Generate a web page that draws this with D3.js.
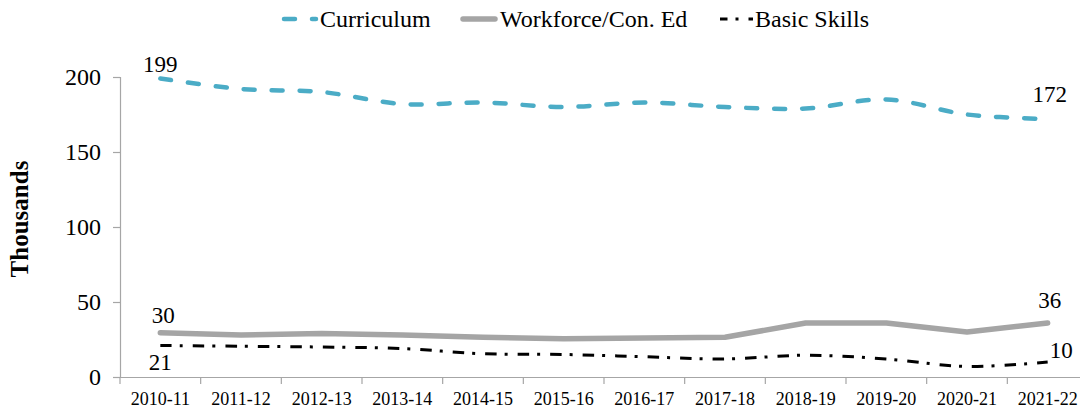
<!DOCTYPE html>
<html>
<head>
<meta charset="utf-8">
<script src="https://cdn.jsdelivr.net/npm/d3@7"></script>
<style>
  html, body { margin: 0; padding: 0; background: #fff; }
  svg { display: block; }
  svg text { font-family: "Liberation Serif", "Times New Roman", serif; }
</style>
</head>
<body>
<div id="chart"></div>
<script>
const years = ["2010-11", "2011-12", "2012-13", "2013-14", "2014-15", "2015-16",
  "2016-17", "2017-18", "2018-19", "2019-20", "2020-21", "2021-22"];
const curriculum = [199, 192, 190, 182, 183, 180, 183, 180, 179, 185, 175, 172];
const workforce = [29.5, 28, 29, 28, 26.5, 25.5, 26, 26.5, 36, 36, 30, 36];
const basicSkills = [21, 20.5, 20, 19, 15.5, 15, 13.5, 12, 14.5, 12, 7, 10];
const yTicks = [0, 50, 100, 150, 200];

const palette = {
  curriculum: "#4BACC6",
  workforce: "#A5A5A5",
  basic: "#000000",
  axis: "#a6a6a6",
  ink: "#000000"
};

const serif = "Liberation Serif";

const series = [
  { name: "Curriculum", values: curriculum, color: palette.curriculum, width: 4.5,
    dash: "11 17", cap: "round", curve: d3.curveCardinal.tension(0),
    labels: [{ i: 0, text: "199", dx: 0, dy: -6.5, anchor: "middle" },
             { i: 11, text: "172", dx: 2, dy: -17, anchor: "middle" }] },
  { name: "Workforce/Con. Ed", values: workforce, color: palette.workforce, width: 5.5,
    dash: null, cap: "round", curve: d3.curveLinear,
    labels: [{ i: 0, text: "30", dx: 3, dy: -10, anchor: "middle" },
             { i: 11, text: "36", dx: 2, dy: -15, anchor: "middle" }] },
  { name: "Basic Skills", values: basicSkills, color: palette.basic, width: 3,
    dash: "11.5 8 3 10", cap: "butt", curve: d3.curveCardinal.tension(0),
    labels: [{ i: 0, text: "21", dx: 0, dy: 24.5, anchor: "middle" },
             { i: 11, text: "10", dx: 2, dy: -4, anchor: "start" }] }
];

const width = 1080;
const height = 412;

const svg = d3.select("#chart")
  .append("svg")
  .attr("width", width)
  .attr("height", height);

svg.append("rect").attr("width", width).attr("height", height).attr("fill", "#fff");

const x = d3.scaleBand().domain(years).range([120, 1088]);
const y = d3.scaleLinear().domain([0, 200]).range([377, 77]);

// y axis
const yAxis = svg.append("g")
  .attr("transform", "translate(120,0)")
  .call(d3.axisLeft(y).tickValues(yTicks).tickSize(7).tickPadding(12));
yAxis.select(".domain").attr("stroke", palette.axis).attr("stroke-width", 1.2);
yAxis.selectAll(".tick line").attr("stroke", palette.axis).attr("stroke-width", 1.2);
yAxis.selectAll(".tick text")
  .style("font-family", serif)
  .attr("font-size", 24)
  .attr("fill", palette.ink)
  .attr("dy", "0.32em");

// x axis
const xAxis = svg.append("g")
  .attr("transform", "translate(0,377)")
  .call(d3.axisBottom(x).tickSize(0).tickPadding(0));
xAxis.select(".domain").attr("stroke", palette.axis).attr("stroke-width", 1.2);
xAxis.selectAll(".tick text")
  .style("font-family", serif)
  .attr("font-size", 18)
  .attr("fill", palette.ink)
  .attr("y", 28)
  .attr("dy", 0);

// x tick marks between categories
svg.append("g")
  .selectAll("line")
  .data(years)
  .join("line")
  .attr("x1", (d) => x(d))
  .attr("x2", (d) => x(d))
  .attr("y1", 377)
  .attr("y2", 384)
  .attr("stroke", palette.axis)
  .attr("stroke-width", 1.2);

// y title
svg.append("text")
  .attr("transform", "translate(28,219) rotate(-90)")
  .attr("text-anchor", "middle")
  .style("font-family", serif)
  .attr("font-size", 25)
  .attr("font-weight", "bold")
  .attr("fill", palette.ink)
  .text("Thousands");

const cx = (i) => x(years[i]) + x.bandwidth() / 2;

series.forEach((s) => {
  const line = d3.line()
    .x((d, i) => cx(i))
    .y((d) => y(d))
    .curve(s.curve);

  svg.append("path")
    .attr("d", line(s.values))
    .attr("fill", "none")
    .attr("stroke", s.color)
    .attr("stroke-width", s.width)
    .attr("stroke-linecap", s.cap)
    .attr("stroke-linejoin", "round")
    .attr("stroke-dasharray", s.dash);

  s.labels.forEach((l) => {
    svg.append("text")
      .attr("x", cx(l.i) + l.dx)
      .attr("y", y(s.values[l.i]) + l.dy)
      .attr("text-anchor", l.anchor)
      .style("font-family", serif)
      .attr("font-size", 23)
      .attr("fill", palette.ink)
      .text(l.text);
  });
});

// legend
const legendItems = [
  { s: series[0], x1: 284, x2: 316, tx: 320, offset: 0 },
  { s: series[1], x1: 463, x2: 495, tx: 500, offset: 0 },
  { s: series[2], x1: 720, x2: 753, tx: 755, offset: 4 }
];
legendItems.forEach((item) => {
  svg.append("line")
    .attr("x1", item.x1)
    .attr("x2", item.x2)
    .attr("y1", 19)
    .attr("y2", 19)
    .attr("stroke", item.s.color)
    .attr("stroke-width", item.s.width)
    .attr("stroke-linecap", item.s.cap)
    .attr("stroke-dasharray", item.s.dash)
    .attr("stroke-dashoffset", item.offset);
  svg.append("text")
    .attr("x", item.tx)
    .attr("y", 27)
    .style("font-family", serif)
    .attr("font-size", 24)
    .attr("fill", palette.ink)
    .text(item.s.name);
});
</script>
</body>
</html>
